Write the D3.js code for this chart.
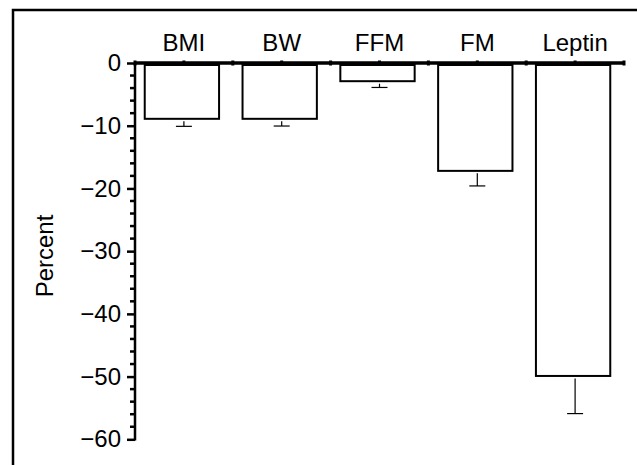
<!DOCTYPE html>
<html>
<head>
<meta charset="utf-8">
<script src="https://cdn.jsdelivr.net/npm/d3@7"></script>
<style>
  body { margin: 0; background: #fff; }
  text { font-family: "Liberation Sans", Arial, sans-serif; fill: #000; }
</style>
</head>
<body>
<script>
var w = 637;
var h = 465;

// data
var categories = ["BMI", "BW", "FFM", "FM", "Leptin"];
var means = [-8.9, -8.9, -2.9, -17.2, -49.9];
var errors = [1.2, 1.15, 1.0, 2.4, 6.0];
var yTicks = [0, -10, -20, -30, -40, -50, -60];

var left = 135, right = 624, top0 = 63, bottom = 439.3;
var fontSize = "24px";

var xScale = d3.scaleBand()
    .domain(categories)
    .range([left, right])
    .paddingInner(0.24)
    .paddingOuter(0.12);

var yScale = d3.scaleLinear()
    .domain([-60, 0])
    .range([bottom, top0]);

var svg = d3.select("body")
    .append("svg")
    .attr("width", w)
    .attr("height", h);

// outer frame (runs off the right and bottom edges)
svg.append("rect")
    .attr("x", 13)
    .attr("y", 10)
    .attr("width", 700)
    .attr("height", 600)
    .attr("fill", "none")
    .attr("stroke", "#000")
    .attr("stroke-width", 2.5);

// bars
svg.selectAll("rect.bar")
    .data(means)
    .enter()
    .append("rect")
    .attr("class", "bar")
    .attr("x", function(d, i) { return xScale(categories[i]) - 2; })
    .attr("y", yScale(0) + 2)
    .attr("width", xScale.bandwidth())
    .attr("height", function(d) { return yScale(d) - yScale(0) - 2; })
    .attr("fill", "#fff")
    .attr("stroke", "#000")
    .attr("stroke-width", 2);

// error bars
var eb = svg.selectAll("g.err")
    .data(means)
    .enter()
    .append("g")
    .attr("class", "err");

eb.append("line")
    .attr("x1", function(d, i) { return xScale(categories[i]) + xScale.bandwidth() / 2; })
    .attr("x2", function(d, i) { return xScale(categories[i]) + xScale.bandwidth() / 2; })
    .attr("y1", function(d) { return yScale(d) + 2.5; })
    .attr("y2", function(d, i) { return yScale(d - errors[i]); })
    .attr("stroke", "#000")
    .attr("stroke-width", 1.2);

eb.append("line")
    .attr("x1", function(d, i) { return xScale(categories[i]) + xScale.bandwidth() / 2 - 8; })
    .attr("x2", function(d, i) { return xScale(categories[i]) + xScale.bandwidth() / 2 + 8; })
    .attr("y1", function(d, i) { return yScale(d - errors[i]); })
    .attr("y2", function(d, i) { return yScale(d - errors[i]); })
    .attr("stroke", "#000")
    .attr("stroke-width", 1.2);

// y axis
var yAxis = d3.axisLeft(yScale)
    .tickValues(yTicks)
    .tickSize(8)
    .tickPadding(6);

var gy = svg.append("g")
    .attr("transform", "translate(" + left + ",0)")
    .call(yAxis);

gy.select(".domain").remove();
gy.selectAll(".tick line").attr("stroke", "#000").attr("stroke-width", 2.5);
gy.selectAll(".tick text")
    .style("font-size", fontSize)
    .style("font-family", "'Liberation Sans', Arial, sans-serif");

// minor ticks every 2 units
gy.selectAll("line.minor")
    .data(d3.range(-58, 0, 2).filter(function(v) { return v % 10 !== 0; }))
    .enter()
    .append("line")
    .attr("class", "minor")
    .attr("x1", -5)
    .attr("x2", 0)
    .attr("y1", function(d) { return yScale(d); })
    .attr("y2", function(d) { return yScale(d); })
    .attr("stroke", "#000")
    .attr("stroke-width", 2.5);

gy.append("line")
    .attr("x1", 0)
    .attr("x2", 0)
    .attr("y1", yScale(-60) + 1.2)
    .attr("y2", yScale(0))
    .attr("stroke", "#000")
    .attr("stroke-width", 2.5);

// x axis at zero, labels on top
var xAxis = d3.axisTop(xScale)
    .tickSize(0)
    .tickPadding(12);

var gx = svg.append("g")
    .attr("transform", "translate(0," + yScale(0) + ")")
    .call(xAxis);

gx.select(".domain").remove();
gx.selectAll(".tick text")
    .style("font-size", fontSize)
    .style("font-family", "'Liberation Sans', Arial, sans-serif");

gx.append("line")
    .attr("x1", left)
    .attr("x2", right)
    .attr("y1", 0)
    .attr("y2", 0)
    .attr("stroke", "#000")
    .attr("stroke-width", 3.5);

// small marks on x axis (band edges and centres)
var marks = [];
categories.forEach(function(c) {
    marks.push(xScale(c) - xScale.step() * xScale.paddingInner() / 2);
    marks.push(xScale(c) + xScale.bandwidth() / 2);
});
marks.push(right);
gx.selectAll("rect.mark")
    .data(marks)
    .enter()
    .append("rect")
    .attr("class", "mark")
    .attr("x", function(d) { return d - 1.5; })
    .attr("y", -2.5)
    .attr("width", 3)
    .attr("height", 5)
    .attr("fill", "#000");

// y axis title
svg.append("text")
    .attr("transform", "translate(53,256) rotate(-90)")
    .attr("text-anchor", "middle")
    .style("font-size", fontSize)
    .text("Percent");
</script>
</body>
</html>
